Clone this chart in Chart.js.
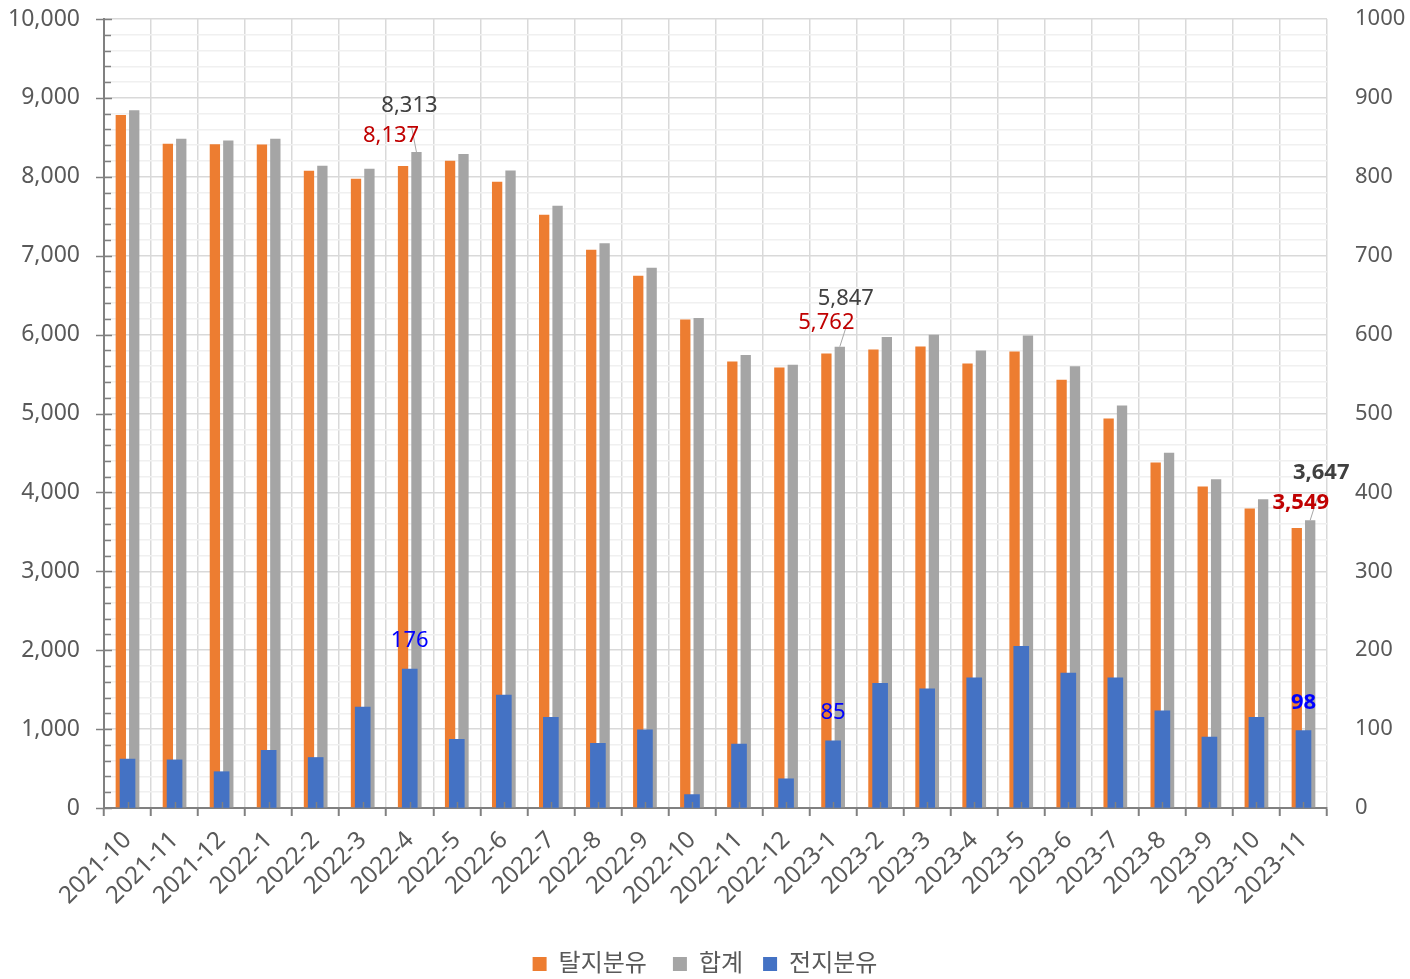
<!DOCTYPE html>
<html>
<head>
<meta charset="utf-8">
<script src="https://cdn.jsdelivr.net/npm/chart.js@4.4.0/dist/chart.umd.min.js"></script>
<style>
  html, body { margin: 0; padding: 0; background: #fff; }
  #wrap { width: 1410px; height: 979px; }
</style>
</head>
<body>
<div id="wrap"><canvas id="chart" width="1410" height="979"></canvas></div>
<script>
// categories
const months = ['2021-10', '2021-11', '2021-12', '2022-1', '2022-2', '2022-3', '2022-4', '2022-5',
  '2022-6', '2022-7', '2022-8', '2022-9', '2022-10', '2022-11', '2022-12', '2023-1', '2023-2',
  '2023-3', '2023-4', '2023-5', '2023-6', '2023-7', '2023-8', '2023-9', '2023-10', '2023-11'];

// 탈지분유 (left axis)
const skimMilk = [8783, 8420, 8414, 8410, 8076, 7975, 8137, 8203, 7937, 7519, 7076, 6747, 6192,
  5660, 5582, 5762, 5810, 5848, 5635, 5785, 5428, 4937, 4380, 4076, 3797, 3549];

// 합계 (left axis)
const totalMilk = [8845, 8481, 8460, 8483, 8140, 8103, 8313, 8290, 8080, 7634, 7158, 6846, 6209,
  5741, 5619, 5847, 5968, 5999, 5800, 5990, 5599, 5102, 4503, 4166, 3912, 3647];

// 전지분유 (right axis)
const wholeMilk = [62, 61, 46, 73, 64, 128, 176, 87, 143, 115, 82, 99, 17, 81, 37, 85, 158, 151,
  165, 205, 171, 165, 123, 90, 115, 98];

// months that carry value callouts
const callouts = [6, 15, 25];

const FONT = "'Noto Sans', 'Noto Sans CJK KR', sans-serif";
Chart.defaults.font.family = FONT;
Chart.defaults.font.size = 22;
Chart.defaults.color = '#595959';

const fmt = v => v.toLocaleString('en-US');

// hand placed label nudges (like the manually moved labels in the original)
const nudge = {
  6:  { tot: [-7, -46], sk: [-12, -30], lead: [2, 20] },
  15: { tot: [6, -48],  sk: [0, -31],   lead: [2, 23] },
  25: { tot: [11, -48], sk: [4, -25],   lead: [-4, 26] }
};

const decor = {
  id: 'decor',
  afterDatasetsDraw(chart) {
    const { ctx, chartArea, scales } = chart;
    const x = scales.x, y = scales.y;
    ctx.save();
    ctx.strokeStyle = '#808080';
    ctx.lineWidth = 1.5;

    // left axis tick marks: majors cross the axis, minors point inward
    y.ticks.forEach(t => {
      const py = Math.round(y.getPixelForValue(t.value)) + 0.5;
      ctx.beginPath();
      if (t.value % 1000 === 0) {
        ctx.moveTo(chartArea.left - 8, py);
        ctx.lineTo(chartArea.left + 8, py);
      } else {
        ctx.moveTo(chartArea.left, py);
        ctx.lineTo(chartArea.left + 7, py);
      }
      ctx.stroke();
    });

    // small inner ticks at category centres
    months.forEach((m, i) => {
      const px = Math.round(x.getPixelForValue(i)) + 0.5;
      ctx.beginPath();
      ctx.moveTo(px, chartArea.bottom);
      ctx.lineTo(px, chartArea.bottom - 6);
      ctx.stroke();
    });

    // callout labels
    const last = months.length - 1;
    ctx.textAlign = 'center';
    ctx.textBaseline = 'middle';
    callouts.forEach(i => {
      const bold = i === last;
      const weight = bold ? 'bold ' : '';
      const sk = chart.getDatasetMeta(0).data[i];
      const tot = chart.getDatasetMeta(1).data[i];
      const wh = chart.getDatasetMeta(2).data[i];
      const n = nudge[i];

      const tx = tot.x + n.tot[0], ty = tot.y + n.tot[1];

      // leader line
      ctx.strokeStyle = '#a6a6a6';
      ctx.lineWidth = 1;
      ctx.beginPath();
      ctx.moveTo(tx + n.lead[0], ty + n.lead[1]);
      ctx.lineTo(tot.x, tot.y);
      ctx.stroke();

      ctx.font = weight + '22px ' + FONT;
      ctx.fillStyle = '#404040';
      ctx.fillText(fmt(totalMilk[i]), tx, ty);

      ctx.fillStyle = '#C00000';
      ctx.fillText(fmt(skimMilk[i]), sk.x + n.sk[0], sk.y + n.sk[1]);

      ctx.fillStyle = '#0000FF';
      ctx.fillText(fmt(wholeMilk[i]), wh.x, wh.y - 28);
    });
    ctx.restore();
  }
};

const noPad = s => { s.paddingTop = 0; s.paddingBottom = 0; };

const ctx = document.getElementById('chart').getContext('2d');
new Chart(ctx, {
  type: 'bar',
  data: {
    labels: months,
    datasets: [
      {
        label: '탈지분유',
        data: skimMilk,
        backgroundColor: '#ED7D31',
        yAxisID: 'y',
        categoryPercentage: 0.57,
        barPercentage: 0.77,
        order: 1
      },
      {
        label: '합계',
        data: totalMilk,
        backgroundColor: '#A5A5A5',
        yAxisID: 'y',
        categoryPercentage: 0.57,
        barPercentage: 0.77,
        order: 1
      },
      {
        label: '전지분유',
        data: wholeMilk,
        backgroundColor: '#4472C4',
        yAxisID: 'y1',
        grouped: false,
        barThickness: 15,
        order: 0
      }
    ]
  },
  options: {
    responsive: false,
    animation: false,
    devicePixelRatio: 1,
    layout: { padding: { top: 19, right: 0, bottom: -7, left: 0 } },
    plugins: {
      tooltip: { enabled: false },
      legend: {
        position: 'bottom',
        labels: {
          boxWidth: 14,
          boxHeight: 14,
          padding: 8,
          color: '#595959',
          font: { size: 24 },
          sort: (a, b) => a.datasetIndex - b.datasetIndex,
          generateLabels(chart) {
            const items = Chart.defaults.plugins.legend.labels.generateLabels(chart);
            items.forEach(it => {
              it.lineWidth = 0;
              if (it.datasetIndex === 0) it.text = it.text + '\u2002\u2005';
              if (it.datasetIndex === 1) it.text = it.text + '\u2002';
            });
            return items;
          }
        }
      }
    },
    scales: {
      x: {
        offset: true,
        grid: {
          offset: true,
          color: '#d9d9d9',
          lineWidth: 1.5,
          tickColor: '#808080',
          tickLength: 8,
          tickWidth: 2
        },
        border: { color: '#808080', width: 2 },
        ticks: { minRotation: 45, maxRotation: 45, autoSkip: false, padding: 10, font: { size: 24 } },
        afterFit(s) { s.height = 136; }
      },
      y: {
        position: 'left',
        min: 0,
        max: 10000,
        ticks: {
          stepSize: 200,
          autoSkip: false,
          padding: 24,
          font: { size: 23 },
          callback: v => (v % 1000 === 0 ? fmt(v) : '')
        },
        grid: {
          drawTicks: false,
          lineWidth: 1.5,
          color: c => (c.tick && c.tick.value % 1000 === 0 ? '#d9d9d9' : '#f0f0f0')
        },
        border: { color: '#808080', width: 2 },
        afterFit(s) { s.width = 104; noPad(s); }
      },
      y1: {
        position: 'right',
        min: 0,
        max: 1000,
        ticks: { stepSize: 100, padding: 28, callback: v => String(v) },
        grid: { drawOnChartArea: false, drawTicks: false },
        border: { display: false },
        afterFit(s) { s.width = 83; noPad(s); }
      }
    }
  },
  plugins: [decor]
});
</script>
</body>
</html>
